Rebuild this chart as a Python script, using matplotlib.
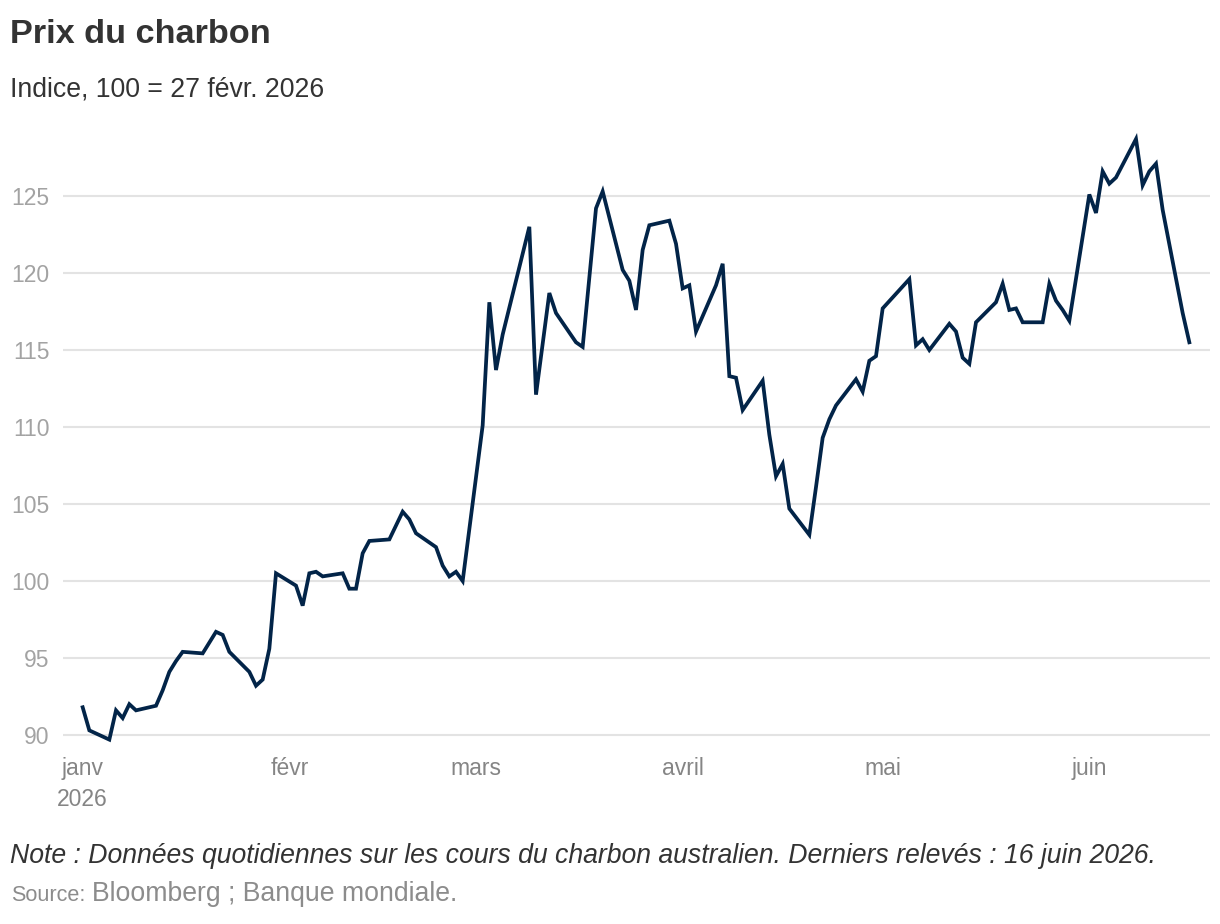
import matplotlib
matplotlib.use("Agg")
import matplotlib.pyplot as plt
import matplotlib.dates as mdates
import numpy as np
import pandas as pd

# daily coal price index, 100 = 27 Feb 2026
dates = [
    "2026-01-01", "2026-01-02", "2026-01-05", "2026-01-06", "2026-01-07", "2026-01-08",
    "2026-01-09", "2026-01-12", "2026-01-13", "2026-01-14", "2026-01-15", "2026-01-16",
    "2026-01-19", "2026-01-20", "2026-01-21", "2026-01-22", "2026-01-23", "2026-01-26",
    "2026-01-27", "2026-01-28", "2026-01-29", "2026-01-30", "2026-02-02", "2026-02-03",
    "2026-02-04", "2026-02-05", "2026-02-06", "2026-02-09", "2026-02-10", "2026-02-11",
    "2026-02-12", "2026-02-13", "2026-02-16", "2026-02-17", "2026-02-18", "2026-02-19",
    "2026-02-20", "2026-02-23", "2026-02-24", "2026-02-25", "2026-02-26", "2026-02-27",
    "2026-03-02", "2026-03-03", "2026-03-04", "2026-03-05", "2026-03-09", "2026-03-10",
    "2026-03-12", "2026-03-13", "2026-03-16", "2026-03-17", "2026-03-19", "2026-03-20",
    "2026-03-23", "2026-03-24", "2026-03-25", "2026-03-26", "2026-03-27", "2026-03-30",
    "2026-03-31", "2026-04-01", "2026-04-02", "2026-04-03", "2026-04-06", "2026-04-07",
    "2026-04-08", "2026-04-09", "2026-04-10", "2026-04-13", "2026-04-14", "2026-04-15",
    "2026-04-16", "2026-04-17", "2026-04-20", "2026-04-21", "2026-04-22", "2026-04-23",
    "2026-04-24", "2026-04-27", "2026-04-28", "2026-04-29", "2026-04-30", "2026-05-01",
    "2026-05-05", "2026-05-06", "2026-05-07", "2026-05-08", "2026-05-11", "2026-05-12",
    "2026-05-13", "2026-05-14", "2026-05-15", "2026-05-18", "2026-05-19", "2026-05-20",
    "2026-05-21", "2026-05-22", "2026-05-25", "2026-05-26", "2026-05-27", "2026-05-28",
    "2026-05-29", "2026-06-01", "2026-06-02", "2026-06-03", "2026-06-04", "2026-06-05",
    "2026-06-08", "2026-06-09", "2026-06-10", "2026-06-11", "2026-06-12", "2026-06-15",
    "2026-06-16",
]
index_values = [
    91.8, 90.3, 89.7, 91.6, 91.1, 92.0,
    91.6, 91.9, 92.9, 94.1, 94.8, 95.4,
    95.3, 96.0, 96.7, 96.5, 95.4, 94.1,
    93.2, 93.6, 95.6, 100.5, 99.7, 98.4,
    100.5, 100.6, 100.3, 100.5, 99.5, 99.5,
    101.8, 102.6, 102.7, 103.6, 104.5, 104.0,
    103.1, 102.2, 101.0, 100.3, 100.6, 100.0,
    110.1, 118.1, 113.7, 116.0, 123.0, 112.1,
    118.7, 117.4, 115.5, 115.2, 124.2, 125.3,
    120.2, 119.5, 117.6, 121.5, 123.1, 123.4,
    121.9, 119.0, 119.2, 116.2, 119.2, 120.6,
    113.3, 113.2, 111.1, 113.0, 109.5, 106.8,
    107.6, 104.7, 103.0, 106.1, 109.3, 110.5,
    111.4, 113.1, 112.3, 114.3, 114.6, 117.7,
    119.6, 115.3, 115.7, 115.0, 116.7, 116.2,
    114.5, 114.1, 116.8, 118.1, 119.3, 117.6,
    117.7, 116.8, 116.8, 119.3, 118.2, 117.6,
    116.9, 125.1, 123.9, 126.6, 125.8, 126.2,
    128.7, 125.7, 126.6, 127.1, 124.1, 117.4,
    115.5,
]
month_ticks = ["2026-01-01", "2026-02-01", "2026-03-01", "2026-04-01", "2026-05-01", "2026-06-01"]
month_labels = ["janv\n2026", "févr", "mars", "avril", "mai", "juin"]
y_ticks = [90, 95, 100, 105, 110, 115, 120, 125]

plt.rcParams["font.family"] = ["Liberation Sans", "DejaVu Sans"]

W, H = 1220, 924
fig = plt.figure(figsize=(W / 100, H / 100), dpi=100)

# axes box placed in pixels
left, right, top, bottom = 63, 1210, 126.7, 750.4
ax = fig.add_axes([left / W, 1 - bottom / H, (right - left) / W, (bottom - top) / H])

x = pd.to_datetime(dates)
ax.plot(x, index_values, color="#022448", lw=2.7, solid_joinstyle="miter", zorder=3)

ax.set_ylim(89, 129.5)
ax.set_xlim(pd.Timestamp("2026-01-01") - pd.Timedelta(days=2.95),
            pd.Timestamp("2026-06-16") + pd.Timedelta(days=3.1))

ax.set_yticks(y_ticks)
ax.set_yticklabels([str(v) for v in y_ticks])
ax.set_xticks(pd.to_datetime(month_ticks))
ax.set_xticklabels(month_labels)

ax.grid(axis="y", color="#e3e3e3", lw=1.5)
ax.set_axisbelow(True)
for s in ax.spines.values():
    s.set_visible(False)
ax.tick_params(axis="y", length=0, pad=9.5, labelsize=16.5, labelcolor="#a3a3a3")
ax.tick_params(axis="x", length=0, pad=5, labelsize=16.5, labelcolor="#858585")
for lab in ax.get_xticklabels():
    lab.set_linespacing(1.45)

def fx(px):
    return px / W

def fy(py):
    return 1 - py / H

fig.text(fx(10), fy(43), "Prix du charbon", fontsize=24.7, fontweight="bold",
         color="#333333", va="baseline")
fig.text(fx(10), fy(97), "Indice, 100 = 27 févr. 2026", fontsize=19.2,
         color="#333333", va="baseline")
fig.text(fx(10), fy(863), "Note : Données quotidiennes sur les cours du charbon australien. "
         "Derniers relevés : 16 juin 2026.", fontsize=19.2, style="italic",
         color="#333333", va="baseline")
fig.text(fx(11), fy(901), "Source:", fontsize=15.6, color="#8c8c8c", va="baseline")
fig.text(fx(92), fy(901), "Bloomberg ; Banque mondiale.", fontsize=19.2,
         color="#8c8c8c", va="baseline")

fig.savefig("out.png", dpi=100)
